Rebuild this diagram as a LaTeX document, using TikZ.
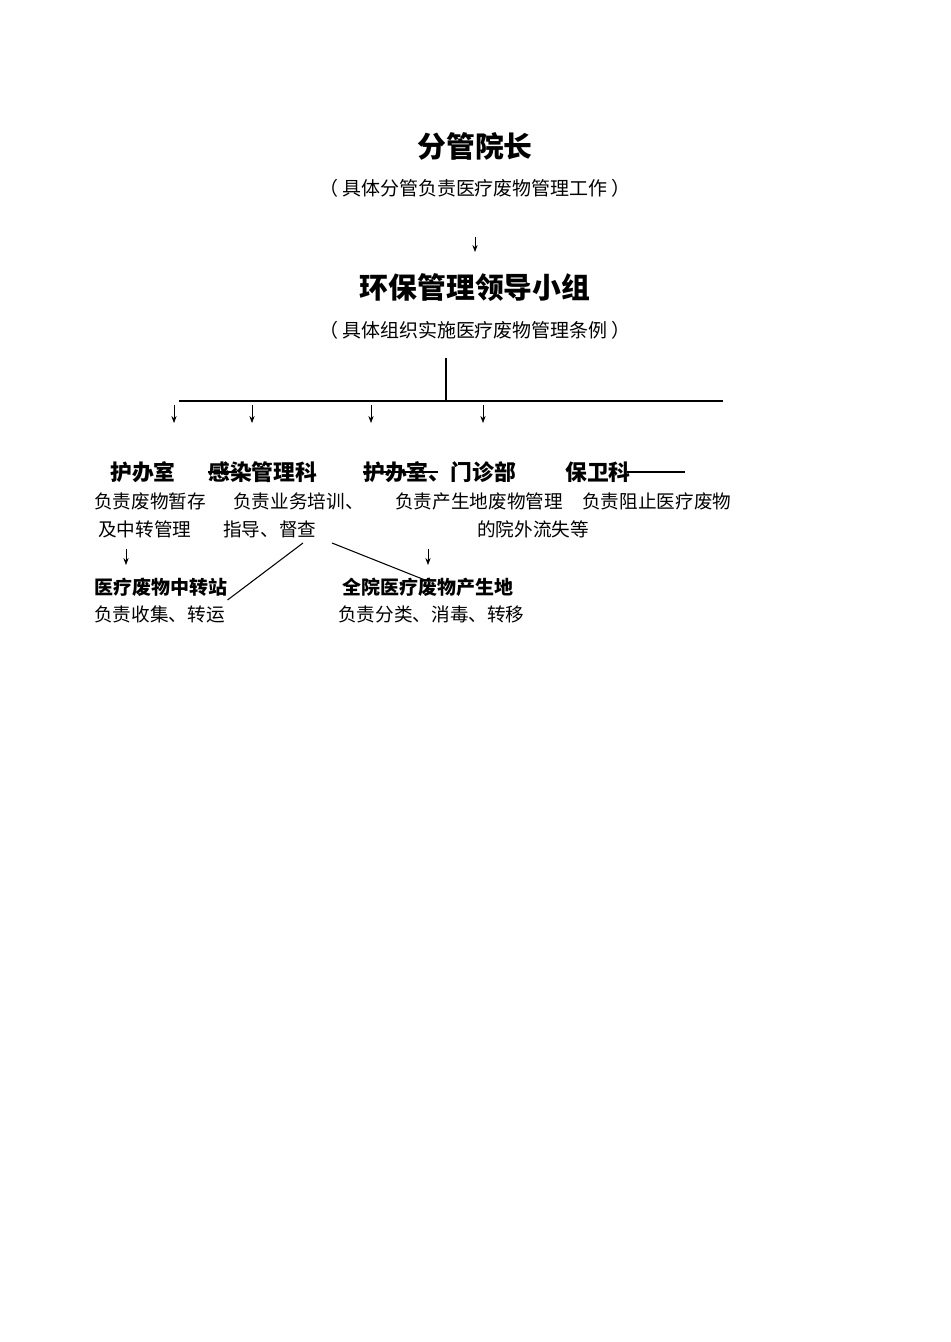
\documentclass[tikz,border=0pt]{standalone}
\usepackage{fontspec}
\usepackage{tikz}
\usetikzlibrary{arrows.meta}
\newfontfamily\cjk{Noto Sans CJK SC}

\begin{document}
\begin{tikzpicture}[x=0.02cm,y=-0.02cm,
  every node/.style={inner sep=0pt,font=\cjk},
  title/.style={font=\cjk\bfseries\fontsize{16.4}{18}\selectfont},
  note/.style={font=\cjk\fontsize{10.8}{12}\selectfont},
  dept/.style={anchor=west,font=\cjk\bfseries\fontsize{12.4}{14}\selectfont},
  duty/.style={anchor=west,font=\cjk\fontsize{10.6}{12}\selectfont},
  site/.style={anchor=west,font=\cjk\bfseries\fontsize{10.8}{12}\selectfont},
  arr/.style={-{Stealth[length=4pt,width=3pt]},line width=0.4pt},
  rule/.style={line width=0.8pt}]
  \useasboundingbox (0,0) rectangle (950,1342);
  % top of the chart
  \node[title] (head) at (475,146) {分管院长};
  \node[note] (headnote) at (475,188) {（\kern0.2em具体分管负责医疗废物管理工作\kern0.2em）};
  \coordinate (h1) at (475,237);
  \coordinate (h2) at (475,252);
  \draw[arr] (h1) -- (h2);
  \node[title] (group) at (475,288) {环保管理领导小组};
  \node[note] (groupnote) at (475,330) {（\kern0.2em具体组织实施医疗废物管理条例\kern0.2em）};
  % branching bar
  \coordinate (stem) at (446,358);
  \coordinate (fork) at (446,401);
  \coordinate (barl) at (179,401);
  \coordinate (barr) at (723,401);
  \draw[rule] (stem) -- (fork);
  \draw[rule] (barl) -- (barr);
  \foreach \x [count=\i] in {174,252,371,483} {
    \coordinate (s\i) at (\x,405);
    \coordinate (t\i) at (\x,423);
    \draw[arr] (s\i) -- (t\i);
  }
  % departments
  \node[dept] (nurse) at (110,472) {护办室};
  \node[dept] (infect) at (208,472) {感染管理科};
  \node[dept] (clinic) at (363,472) {护办室、门诊部};
  \node[dept] (guard) at (565,472) {保卫科};
  \draw[line width=0.6pt] (infect.west) -- ++(29,0);
  \draw[line width=0.6pt] (clinic.west) -- ++(75,0);
  \draw[line width=0.6pt] (627,472) -- (685,472);
  \node[duty] (nurse1) at (94,501) {负责废物暂存};
  \node[duty] (nurse2) at (98,529) {及中转管理};
  \node[duty] (infect1) at (233,501) {负责业务培训、};
  \node[duty] (infect2) at (223,529) {指导、督查};
  \node[duty] (clinic1) at (395,501) {负责产生地废物管理};
  \node[duty] (guard1) at (582,501) {负责阻止医疗废物};
  \node[duty] (guard2) at (477,529) {的院外流失等};
  % lower level
  \coordinate (u1) at (126,549);
  \coordinate (v1) at (126,565);
  \coordinate (u2) at (428,549);
  \coordinate (v2) at (428,565);
  \draw[arr] (u1) -- (v1);
  \draw[arr] (u2) -- (v2);
  \node[site] (station) at (94,587) {医疗废物中转站};
  \node[duty] (station1) at (94,614) {负责收集、转运};
  \node[site] (source) at (342,587) {全院医疗废物产生地};
  \node[duty] (source1) at (338,614) {负责分类、消毒、转移};
  \coordinate (d1) at (303,543);
  \coordinate (d2) at (332,543);
  \draw[line width=0.6pt] (d1) -- (station.east |- 0,600);
  \draw[line width=0.6pt] (d2) -- (425,580);
\end{tikzpicture}
\end{document}
